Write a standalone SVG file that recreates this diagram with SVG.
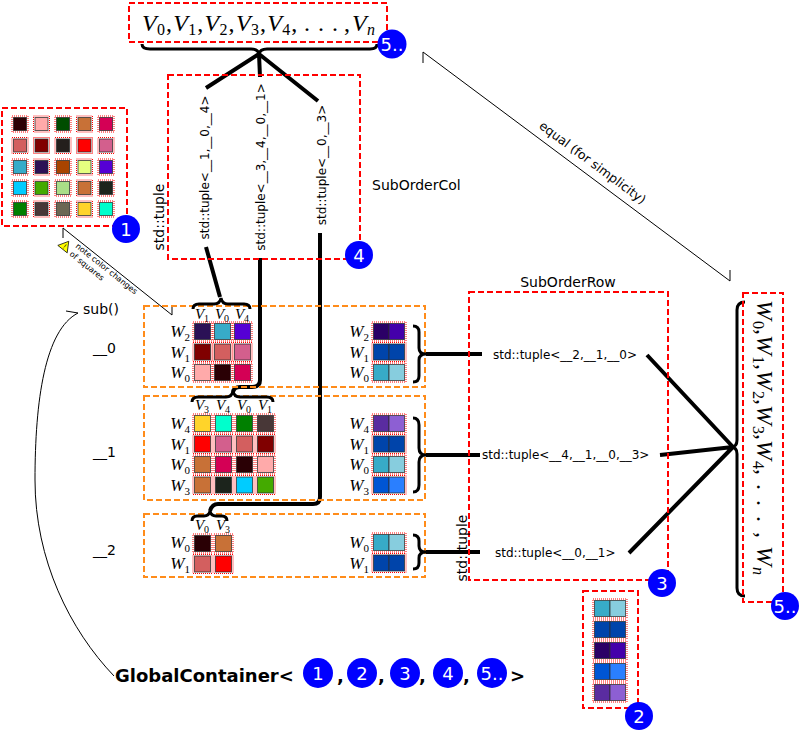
<svg xmlns="http://www.w3.org/2000/svg" xmlns:xlink="http://www.w3.org/1999/xlink" width="800" height="730" viewBox="0 0 800 730">
<style>
.rb{fill:none;stroke:#ff0000;stroke-width:2;stroke-dasharray:6 3}
.ob{fill:none;stroke:#ff8c1a;stroke-width:2;stroke-dasharray:6 3}
.fr{fill:none;stroke:#ff0000;stroke-width:1;stroke-dasharray:1 1}
.sq{stroke:#2b2b2b;stroke-opacity:.75;stroke-width:1}
.t{font-family:"DejaVu Sans","Liberation Sans",sans-serif;fill:#000}
.m{font-family:"Liberation Serif","DejaVu Serif",serif;font-style:italic;fill:#000}
.up{font-style:normal}
.thick{fill:none;stroke:#000;stroke-width:4}
.br{fill:none;stroke:#000;stroke-width:3}
.thin{fill:none;stroke:#000;stroke-width:1}
.bc{fill:#0000ff}
.bt{font-family:"DejaVu Sans","Liberation Sans",sans-serif;fill:#fff;font-size:18px;text-anchor:middle}
</style>
<rect width="800" height="730" fill="#fff"/>

<g id="connectors">
  <path class="thick" d="M259,54 L206,88 M259,54 L260,77 M259,54 L318,101"/>
  <path class="thick" d="M206,247 L220,297"/>
  <path class="thick" d="M260,258 L260,380 Q260,387 252,387 L240,387 Q234,387 233,392"/>
  <path class="thick" d="M320,233 L320,497 Q320,504 313,504 L218,504 Q212,504 210,511"/>
  <path class="thick" d="M426,354 L482,354 M426,455 L480,455 M426,552 L480,552"/>
  <path class="thick" d="M647,355 L733,447 M660,455 L733,447 M629,553 L733,447"/>
  <path class="thin" d="M423,52 L730,281 M423,52 L423,63 M730,281 L730,270"/>
  <text class="t" font-size="12.5" text-anchor="middle" transform="translate(590,166) rotate(36.7)">equal (for simplicity)</text>
  <path class="thin" d="M63,228 L172,315 M63,228 L63,238 M172,315 L172,305"/>
  <path class="thin" d="M114,676 C70,630 35,560 35,480 C35,400 45,330 78,313 L66,311"/>
</g>

<g id="vtop">
  <rect class="rb" x="129" y="3" width="258" height="39"/>
  <text class="m" font-size="24">
    <tspan x="142" y="31">V</tspan><tspan class="up" font-size="16" x="157" y="35">0</tspan><tspan class="up" x="166" y="31">,</tspan>
    <tspan x="173.3" y="31">V</tspan><tspan class="up" font-size="16" x="188.3" y="35">1</tspan><tspan class="up" x="197.3" y="31">,</tspan>
    <tspan x="204.6" y="31">V</tspan><tspan class="up" font-size="16" x="219.6" y="35">2</tspan><tspan class="up" x="228.6" y="31">,</tspan>
    <tspan x="235.9" y="31">V</tspan><tspan class="up" font-size="16" x="250.9" y="35">3</tspan><tspan class="up" x="259.9" y="31">,</tspan>
    <tspan x="267.2" y="31">V</tspan><tspan class="up" font-size="16" x="282.2" y="35">4</tspan><tspan class="up" x="291.2" y="31">,</tspan>
    <tspan class="up" x="304" y="31">.</tspan><tspan class="up" x="318" y="31">.</tspan><tspan class="up" x="332" y="31">.</tspan><tspan class="up" x="344" y="31">,</tspan>
    <tspan x="352" y="31">V</tspan><tspan font-size="16" x="367" y="35">n</tspan>
  </text>
  <path class="br" d="M142,44 Q142,49 150,49 L251,49 Q258,49 259,54 Q260,49 267,49 L370,49 Q377,49 377,44"/>
  <circle class="bc" cx="392" cy="44" r="14.5"/>
  <text class="bt" x="392" y="50.5">5..</text>
</g>

<g id="grid">
  <rect class="rb" x="2" y="108" width="125" height="118"/>
  <g>
    <rect class="sq" fill="#2a0005" x="13.5" y="117.5" width="13" height="13"/><rect class="fr" x="12" y="116" width="16" height="16"/>
    <rect class="sq" fill="#ffaaaa" x="35" y="117.5" width="13" height="13"/><rect class="fr" x="33.5" y="116" width="16" height="16"/>
    <rect class="sq" fill="#004d00" x="56.5" y="117.5" width="13" height="13"/><rect class="fr" x="55" y="116" width="16" height="16"/>
    <rect class="sq" fill="#c87137" x="78" y="117.5" width="13" height="13"/><rect class="fr" x="76.5" y="116" width="16" height="16"/>
    <rect class="sq" fill="#d40055" x="99.5" y="117.5" width="13" height="13"/><rect class="fr" x="98" y="116" width="16" height="16"/>

    <rect class="sq" fill="#d35f5f" x="13.5" y="139" width="13" height="13"/><rect class="fr" x="12" y="137.5" width="16" height="16"/>
    <rect class="sq" fill="#800000" x="35" y="139" width="13" height="13"/><rect class="fr" x="33.5" y="137.5" width="16" height="16"/>
    <rect class="sq" fill="#241f1c" x="56.5" y="139" width="13" height="13"/><rect class="fr" x="55" y="137.5" width="16" height="16"/>
    <rect class="sq" fill="#ff0000" x="78" y="139" width="13" height="13"/><rect class="fr" x="76.5" y="137.5" width="16" height="16"/>
    <rect class="sq" fill="#d35f8d" x="99.5" y="139" width="13" height="13"/><rect class="fr" x="98" y="137.5" width="16" height="16"/>

    <rect class="sq" fill="#37abc8" x="13.5" y="160.5" width="13" height="13"/><rect class="fr" x="12" y="159" width="16" height="16"/>
    <rect class="sq" fill="#2b1156" x="35" y="160.5" width="13" height="13"/><rect class="fr" x="33.5" y="159" width="16" height="16"/>
    <rect class="sq" fill="#aa4400" x="56.5" y="160.5" width="13" height="13"/><rect class="fr" x="55" y="159" width="16" height="16"/>
    <rect class="sq" fill="#e5ff80" x="78" y="160.5" width="13" height="13"/><rect class="fr" x="76.5" y="159" width="16" height="16"/>
    <rect class="sq" fill="#5500d4" x="99.5" y="160.5" width="13" height="13"/><rect class="fr" x="98" y="159" width="16" height="16"/>

    <rect class="sq" fill="#00ccff" x="13.5" y="181.5" width="13" height="13"/><rect class="fr" x="12" y="180" width="16" height="16"/>
    <rect class="sq" fill="#44aa00" x="35" y="181.5" width="13" height="13"/><rect class="fr" x="33.5" y="180" width="16" height="16"/>
    <rect class="sq" fill="#aade87" x="56.5" y="181.5" width="13" height="13"/><rect class="fr" x="55" y="180" width="16" height="16"/>
    <rect class="sq" fill="#c87137" x="78" y="181.5" width="13" height="13"/><rect class="fr" x="76.5" y="180" width="16" height="16"/>
    <rect class="sq" fill="#1c241c" x="99.5" y="181.5" width="13" height="13"/><rect class="fr" x="98" y="180" width="16" height="16"/>

    <rect class="sq" fill="#008000" x="13.5" y="202.5" width="13" height="13"/><rect class="fr" x="12" y="201" width="16" height="16"/>
    <rect class="sq" fill="#483737" x="35" y="202.5" width="13" height="13"/><rect class="fr" x="33.5" y="201" width="16" height="16"/>
    <rect class="sq" fill="#6c6753" x="56.5" y="202.5" width="13" height="13"/><rect class="fr" x="55" y="201" width="16" height="16"/>
    <rect class="sq" fill="#ffd42a" x="78" y="202.5" width="13" height="13"/><rect class="fr" x="76.5" y="201" width="16" height="16"/>
    <rect class="sq" fill="#00ffcc" x="99.5" y="202.5" width="13" height="13"/><rect class="fr" x="98" y="201" width="16" height="16"/>
  </g>
  <circle class="bc" cx="126" cy="229" r="14"/>
  <text class="bt" x="126" y="235.5">1</text>
</g>

<g id="note">
  <g transform="translate(65,246) rotate(38.6)">
    <polygon points="-6,4 6,4 0,-6" fill="#ffff00" stroke="#000" stroke-width="0.7"/>
    <text class="t" font-size="7" text-anchor="middle" x="0" y="3">!</text>
  </g>
  <text class="t" font-size="8" transform="translate(75,247) rotate(38.6)">note color changes</text>
  <text class="t" font-size="8" transform="translate(69,255) rotate(38.6)">of squares</text>
</g>

<g id="subordercol">
  <rect class="rb" x="168" y="75" width="192" height="184"/>
  <text class="t" font-size="12" text-anchor="middle" transform="translate(209,167.5) rotate(-90)">std::tuple&lt;__1,__0,__4&gt;</text>
  <text class="t" font-size="12" text-anchor="middle" transform="translate(264.5,167) rotate(-90)">std::tuple&lt;__3,__4,__0,__1&gt;</text>
  <text class="t" font-size="12" text-anchor="middle" transform="translate(326,165) rotate(-90)">std::tuple&lt;__0,__3&gt;</text>
  <text class="t" font-size="14" text-anchor="middle" transform="translate(164,217) rotate(-90)">std::tuple</text>
  <text class="t" font-size="14" x="372" y="190">SubOrderCol</text>
  <circle class="bc" cx="359" cy="255" r="14"/>
  <text class="bt" x="359" y="261.5">4</text>
</g>

<g id="labels">
  <text class="t" font-size="14" x="83" y="314">sub()</text>
  <text class="t" font-size="14" x="93" y="353">__0</text>
  <text class="t" font-size="14" x="93" y="457">__1</text>
  <text class="t" font-size="14" x="93" y="555">__2</text>
</g>

<g id="row0">
  <rect class="ob" x="144" y="306" width="281" height="81"/>
  <path class="br" d="M193,309 Q193,304 199,304 L214,304 Q220,304 221,298 Q222,304 228,304 L244,304 Q250,304 250,309"/>
  <g class="m" font-size="15" text-anchor="middle">
    <text x="202" y="319">V<tspan class="up" font-size="10" dy="3">1</tspan></text>
    <text x="222" y="319">V<tspan class="up" font-size="10" dy="3">0</tspan></text>
    <text x="242" y="319">V<tspan class="up" font-size="10" dy="3">4</tspan></text>
  </g>
  <g class="m" font-size="17" text-anchor="end">
    <text x="190" y="337">W<tspan class="up" font-size="11" dy="4">2</tspan></text>
    <text x="190" y="357.5">W<tspan class="up" font-size="11" dy="4">1</tspan></text>
    <text x="190" y="378">W<tspan class="up" font-size="11" dy="4">0</tspan></text>
    <text x="369" y="337">W<tspan class="up" font-size="11" dy="4">2</tspan></text>
    <text x="369" y="357.5">W<tspan class="up" font-size="11" dy="4">1</tspan></text>
    <text x="369" y="378">W<tspan class="up" font-size="11" dy="4">0</tspan></text>
  </g>
  <rect class="sq" fill="#2b1156" x="194.5" y="323.5" width="16" height="16"/><rect class="fr" x="193" y="322" width="19" height="19"/>
  <rect class="sq" fill="#37abc8" x="214.5" y="323.5" width="16" height="16"/><rect class="fr" x="213" y="322" width="19" height="19"/>
  <rect class="sq" fill="#5500d4" x="234.5" y="323.5" width="16" height="16"/><rect class="fr" x="233" y="322" width="19" height="19"/>
  <rect class="sq" fill="#800000" x="194.5" y="344" width="16" height="16"/><rect class="fr" x="193" y="342.5" width="19" height="19"/>
  <rect class="sq" fill="#d35f5f" x="214.5" y="344" width="16" height="16"/><rect class="fr" x="213" y="342.5" width="19" height="19"/>
  <rect class="sq" fill="#d35f8d" x="234.5" y="344" width="16" height="16"/><rect class="fr" x="233" y="342.5" width="19" height="19"/>
  <rect class="sq" fill="#ffaaaa" x="194.5" y="364.5" width="16" height="16"/><rect class="fr" x="193" y="363" width="19" height="19"/>
  <rect class="sq" fill="#2a0005" x="214.5" y="364.5" width="16" height="16"/><rect class="fr" x="213" y="363" width="19" height="19"/>
  <rect class="sq" fill="#d40055" x="234.5" y="364.5" width="16" height="16"/><rect class="fr" x="233" y="363" width="19" height="19"/>

  <rect class="sq" fill="#2b0066" x="373.5" y="323.5" width="15.5" height="16"/><rect class="sq" fill="#4400aa" x="389" y="323.5" width="15.5" height="16"/><rect class="fr" x="372" y="322" width="34" height="19"/>
  <rect class="sq" fill="#0044aa" x="373.5" y="344" width="15.5" height="16"/><rect class="sq" fill="#0044aa" x="389" y="344" width="15.5" height="16"/><rect class="fr" x="372" y="342.5" width="34" height="19"/>
  <rect class="sq" fill="#37abc8" x="373.5" y="364.5" width="15.5" height="16"/><rect class="sq" fill="#87cdde" x="389" y="364.5" width="15.5" height="16"/><rect class="fr" x="372" y="363" width="34" height="19"/>
  <path class="br" d="M413,326 Q419,326 419,332 L419,348 Q419,354 426,354 Q419,354 419,360 L419,376 Q419,382 413,382"/>
</g>

<g id="row1">
  <rect class="ob" x="144" y="396" width="281" height="104"/>
  <path class="br" d="M192,402 Q192,397 198,397 L226,397 Q232,397 233,391 Q234,397 240,397 L267,397 Q273,397 273,402"/>
  <g class="m" font-size="15" text-anchor="middle">
    <text x="202" y="410">V<tspan class="up" font-size="10" dy="3">3</tspan></text>
    <text x="223" y="410">V<tspan class="up" font-size="10" dy="3">4</tspan></text>
    <text x="244" y="410">V<tspan class="up" font-size="10" dy="3">0</tspan></text>
    <text x="265" y="410">V<tspan class="up" font-size="10" dy="3">1</tspan></text>
  </g>
  <g class="m" font-size="17" text-anchor="end">
    <text x="190" y="429">W<tspan class="up" font-size="11" dy="4">4</tspan></text>
    <text x="190" y="449.5">W<tspan class="up" font-size="11" dy="4">1</tspan></text>
    <text x="190" y="470">W<tspan class="up" font-size="11" dy="4">0</tspan></text>
    <text x="190" y="490.5">W<tspan class="up" font-size="11" dy="4">3</tspan></text>
    <text x="369" y="429">W<tspan class="up" font-size="11" dy="4">4</tspan></text>
    <text x="369" y="449.5">W<tspan class="up" font-size="11" dy="4">1</tspan></text>
    <text x="369" y="470">W<tspan class="up" font-size="11" dy="4">0</tspan></text>
    <text x="369" y="490.5">W<tspan class="up" font-size="11" dy="4">3</tspan></text>
  </g>
  <rect class="sq" fill="#ffd42a" x="194.5" y="415.5" width="16" height="16"/><rect class="fr" x="193" y="414" width="19" height="19"/>
  <rect class="sq" fill="#00ffcc" x="215.5" y="415.5" width="16" height="16"/><rect class="fr" x="214" y="414" width="19" height="19"/>
  <rect class="sq" fill="#008000" x="236.5" y="415.5" width="16" height="16"/><rect class="fr" x="235" y="414" width="19" height="19"/>
  <rect class="sq" fill="#483737" x="257.5" y="415.5" width="16" height="16"/><rect class="fr" x="256" y="414" width="19" height="19"/>

  <rect class="sq" fill="#ff0000" x="194.5" y="436" width="16" height="16"/><rect class="fr" x="193" y="434.5" width="19" height="19"/>
  <rect class="sq" fill="#d35f8d" x="215.5" y="436" width="16" height="16"/><rect class="fr" x="214" y="434.5" width="19" height="19"/>
  <rect class="sq" fill="#d35f5f" x="236.5" y="436" width="16" height="16"/><rect class="fr" x="235" y="434.5" width="19" height="19"/>
  <rect class="sq" fill="#800000" x="257.5" y="436" width="16" height="16"/><rect class="fr" x="256" y="434.5" width="19" height="19"/>

  <rect class="sq" fill="#c87137" x="194.5" y="456.5" width="16" height="16"/><rect class="fr" x="193" y="455" width="19" height="19"/>
  <rect class="sq" fill="#d40055" x="215.5" y="456.5" width="16" height="16"/><rect class="fr" x="214" y="455" width="19" height="19"/>
  <rect class="sq" fill="#2a0005" x="236.5" y="456.5" width="16" height="16"/><rect class="fr" x="235" y="455" width="19" height="19"/>
  <rect class="sq" fill="#ffaaaa" x="257.5" y="456.5" width="16" height="16"/><rect class="fr" x="256" y="455" width="19" height="19"/>

  <rect class="sq" fill="#c87137" x="194.5" y="477" width="16" height="16"/><rect class="fr" x="193" y="475.5" width="19" height="19"/>
  <rect class="sq" fill="#1c241c" x="215.5" y="477" width="16" height="16"/><rect class="fr" x="214" y="475.5" width="19" height="19"/>
  <rect class="sq" fill="#00ccff" x="236.5" y="477" width="16" height="16"/><rect class="fr" x="235" y="475.5" width="19" height="19"/>
  <rect class="sq" fill="#44aa00" x="257.5" y="477" width="16" height="16"/><rect class="fr" x="256" y="475.5" width="19" height="19"/>

  <rect class="sq" fill="#5a2ca0" x="373.5" y="415.5" width="15.5" height="16"/><rect class="sq" fill="#8d5fd3" x="389" y="415.5" width="15.5" height="16"/><rect class="fr" x="372" y="414" width="34" height="19"/>
  <rect class="sq" fill="#0044aa" x="373.5" y="436" width="15.5" height="16"/><rect class="sq" fill="#0044aa" x="389" y="436" width="15.5" height="16"/><rect class="fr" x="372" y="434.5" width="34" height="19"/>
  <rect class="sq" fill="#37abc8" x="373.5" y="456.5" width="15.5" height="16"/><rect class="sq" fill="#87cdde" x="389" y="456.5" width="15.5" height="16"/><rect class="fr" x="372" y="455" width="34" height="19"/>
  <rect class="sq" fill="#0055d4" x="373.5" y="477" width="15.5" height="16"/><rect class="sq" fill="#2a7fff" x="389" y="477" width="15.5" height="16"/><rect class="fr" x="372" y="475.5" width="34" height="19"/>
  <path class="br" d="M413,418 Q419,418 419,425 L419,448 Q419,455 426,455 Q419,455 419,462 L419,485 Q419,492 413,492"/>
</g>

<g id="row2">
  <rect class="ob" x="144" y="514" width="281" height="63"/>
  <path class="br" d="M192,521 Q192,516 197,516 L204,516 Q209,516 210,511 Q211,516 216,516 L222,516 Q227,516 227,521"/>
  <g class="m" font-size="15" text-anchor="middle">
    <text x="202" y="530">V<tspan class="up" font-size="10" dy="3">0</tspan></text>
    <text x="223" y="530">V<tspan class="up" font-size="10" dy="3">3</tspan></text>
  </g>
  <g class="m" font-size="17" text-anchor="end">
    <text x="190" y="548">W<tspan class="up" font-size="11" dy="4">0</tspan></text>
    <text x="190" y="568.5">W<tspan class="up" font-size="11" dy="4">1</tspan></text>
    <text x="369" y="548">W<tspan class="up" font-size="11" dy="4">0</tspan></text>
    <text x="369" y="568.5">W<tspan class="up" font-size="11" dy="4">1</tspan></text>
  </g>
  <rect class="sq" fill="#2a0005" x="194.5" y="535.5" width="16" height="16"/><rect class="fr" x="193" y="534" width="19" height="19"/>
  <rect class="sq" fill="#c87137" x="215.5" y="535.5" width="16" height="16"/><rect class="fr" x="214" y="534" width="19" height="19"/>
  <rect class="sq" fill="#d35f5f" x="194.5" y="556" width="16" height="16"/><rect class="fr" x="193" y="554.5" width="19" height="19"/>
  <rect class="sq" fill="#ff0000" x="215.5" y="556" width="16" height="16"/><rect class="fr" x="214" y="554.5" width="19" height="19"/>

  <rect class="sq" fill="#37abc8" x="373.5" y="534.5" width="15.5" height="16"/><rect class="sq" fill="#87cdde" x="389" y="534.5" width="15.5" height="16"/><rect class="fr" x="372" y="533" width="34" height="19"/>
  <rect class="sq" fill="#0044aa" x="373.5" y="555" width="15.5" height="16"/><rect class="sq" fill="#0044aa" x="389" y="555" width="15.5" height="16"/><rect class="fr" x="372" y="553.5" width="34" height="19"/>
  <path class="br" d="M413,535 Q419,535 419,541 L419,546 Q419,552 426,552 Q419,552 419,558 L419,563 Q419,569 413,569"/>
</g>

<g id="suborderrow">
  <rect class="rb" x="469" y="292" width="199" height="288"/>
  <text class="t" font-size="14" text-anchor="middle" x="568" y="287">SubOrderRow</text>
  <text class="t" font-size="12" x="493" y="358.5">std::tuple&lt;__2,__1,__0&gt;</text>
  <text class="t" font-size="12" x="482" y="459">std::tuple&lt;__4,__1,__0,__3&gt;</text>
  <text class="t" font-size="12" x="495" y="557">std::tuple&lt;__0,__1&gt;</text>
  <text class="t" font-size="14" text-anchor="middle" transform="translate(467,548) rotate(-90)">std::tuple</text>
  <circle class="bc" cx="662" cy="583" r="14"/>
  <text class="bt" x="662" y="589.5">3</text>
</g>

<g id="wright">
  <path class="br" d="M745,302 Q737,302 737,310 L737,440 Q737,447 731,447 Q737,447 737,454 L737,588 Q737,596 745,596"/>
  <rect class="rb" x="743" y="293" width="40" height="309"/>
  <text class="m" font-size="24" transform="translate(757,300) rotate(90)">
    <tspan x="0" y="0">W</tspan><tspan class="up" font-size="16" x="21" y="4">0</tspan><tspan class="up" x="29" y="0">,</tspan>
    <tspan x="35" y="0">W</tspan><tspan class="up" font-size="16" x="56" y="4">1</tspan><tspan class="up" x="64" y="0">,</tspan>
    <tspan x="70" y="0">W</tspan><tspan class="up" font-size="16" x="91" y="4">2</tspan><tspan class="up" x="99" y="0">,</tspan>
    <tspan x="105" y="0">W</tspan><tspan class="up" font-size="16" x="126" y="4">3</tspan><tspan class="up" x="134" y="0">,</tspan>
    <tspan x="140" y="0">W</tspan><tspan class="up" font-size="16" x="161" y="4">4</tspan><tspan class="up" x="169" y="0">,</tspan>
    <tspan class="up" x="184" y="0">.</tspan><tspan class="up" x="200" y="0">.</tspan><tspan class="up" x="216" y="0">.</tspan><tspan class="up" x="232" y="0">,</tspan>
    <tspan x="246" y="0">W</tspan><tspan font-size="16" x="267" y="4">n</tspan>
  </text>
  <circle class="bc" cx="785" cy="606" r="14"/>
  <text class="bt" x="785" y="612.5">5..</text>
</g>

<g id="box2">
  <rect class="rb" x="583" y="591" width="55" height="117"/>
  <rect class="sq" fill="#37abc8" x="594.5" y="600.5" width="15.5" height="16"/><rect class="sq" fill="#87cdde" x="610" y="600.5" width="15.5" height="16"/><rect class="fr" x="593" y="599" width="34" height="19"/>
  <rect class="sq" fill="#0044aa" x="594.5" y="621.5" width="15.5" height="16"/><rect class="sq" fill="#0044aa" x="610" y="621.5" width="15.5" height="16"/><rect class="fr" x="593" y="620" width="34" height="19"/>
  <rect class="sq" fill="#2b0066" x="594.5" y="642.5" width="15.5" height="16"/><rect class="sq" fill="#4400aa" x="610" y="642.5" width="15.5" height="16"/><rect class="fr" x="593" y="641" width="34" height="19"/>
  <rect class="sq" fill="#0055d4" x="594.5" y="663.5" width="15.5" height="16"/><rect class="sq" fill="#2a7fff" x="610" y="663.5" width="15.5" height="16"/><rect class="fr" x="593" y="662" width="34" height="19"/>
  <rect class="sq" fill="#5a2ca0" x="594.5" y="684.5" width="15.5" height="16"/><rect class="sq" fill="#8d5fd3" x="610" y="684.5" width="15.5" height="16"/><rect class="fr" x="593" y="683" width="34" height="19"/>
  <circle class="bc" cx="639" cy="716" r="14"/>
  <text class="bt" x="639" y="722.5">2</text>
</g>

<g id="global">
  <text class="t" font-size="18" font-weight="bold" x="115" y="682">GlobalContainer&lt;</text>
  <circle class="bc" cx="318" cy="673" r="15"/><text class="bt" x="318" y="679.5">1</text>
  <text class="t" font-size="18" font-weight="bold" x="337" y="682">,</text>
  <circle class="bc" cx="362" cy="673" r="15"/><text class="bt" x="362" y="679.5">2</text>
  <text class="t" font-size="18" font-weight="bold" x="378" y="682">,</text>
  <circle class="bc" cx="405" cy="673" r="15"/><text class="bt" x="405" y="679.5">3</text>
  <text class="t" font-size="18" font-weight="bold" x="419" y="682">,</text>
  <circle class="bc" cx="448" cy="673" r="15"/><text class="bt" x="448" y="679.5">4</text>
  <text class="t" font-size="18" font-weight="bold" x="463" y="682">,</text>
  <circle class="bc" cx="492" cy="673" r="15"/><text class="bt" x="492" y="679.5">5..</text>
  <text class="t" font-size="18" font-weight="bold" x="510" y="682">&gt;</text>
</g>
</svg>
